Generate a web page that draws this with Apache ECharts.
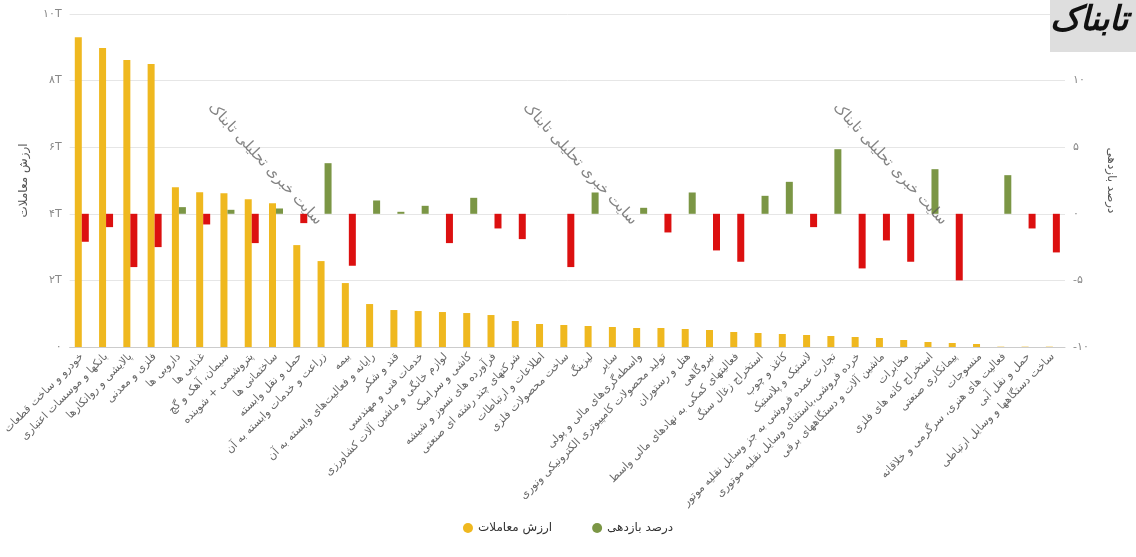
<!DOCTYPE html>
<html><head><meta charset="utf-8">
<script src="https://cdn.jsdelivr.net/npm/echarts@6/dist/echarts.min.js"></script>
<style>html,body{margin:0;padding:0;background:#fff}#c{width:1136px;height:557px}</style>
</head><body><div id="c"></div>
<script>
const categories = ["خودرو و ساخت قطعات","بانکها و موسسات اعتباری","پالایشی و روانکارها","فلزی و معدنی","دارویی ها","غذایی ها","سیمان، آهک و گچ","پتروشیمی + شوینده","ساختمانی ها","حمل و نقل وابسته","زراعت و خدمات وابسته به آن","بیمه","رایانه و فعالیت‌های وابسته به آن","قند و شکر","خدمات فنی و مهندسی","لوازم خانگی و ماشین آلات کشاورزی","کاشی و سرامیک","فرآورده های نسوز و شیشه","شرکتهای چند رشته ای صنعتی","اطلاعات و ارتباطات","ساخت محصولات فلزی","لیزینگ","سایر","واسطه‌گری‌های مالی و پولی","تولید محصولات کامپیوتری الکترونیکی ونوری","هتل و رستوران","نیروگاهی","فعالیتهای کمکی به نهادهای مالی واسط","استخراج زغال سنگ","کاغذ و چوب","لاستیک و پلاستیک","تجارت عمده فروشی به جز وسایل نقلیه موتور","خرده فروشی،باستثنای وسایل نقلیه موتوری","ماشین آلات و دستگاههای برقی","مخابرات","استخراج کانه های فلزی","پیمانکاری صنعتی","منسوجات","فعالیت های هنری، سرگرمی و خلاقانه","حمل و نقل آبی","ساخت دستگاهها و وسایل ارتباطی"];
const tradeValue = [9.3,8.98,8.62,8.5,4.8,4.65,4.62,4.44,4.32,3.06,2.58,1.92,1.29,1.11,1.08,1.05,1.02,0.96,0.78,0.69,0.66,0.63,0.6,0.57,0.57,0.54,0.51,0.45,0.42,0.39,0.36,0.33,0.30,0.27,0.21,0.15,0.12,0.09,0.01,0.01,0.01];
const returnPct = [-2.1,-1.0,-4.0,-2.5,0.5,-0.8,0.3,-2.2,0.4,-0.7,3.8,-3.9,1.0,0.15,0.6,-2.2,1.2,-1.1,-1.9,null,-4.0,1.6,null,0.45,-1.4,1.6,-2.75,-3.6,1.35,2.4,-1.0,4.85,-4.1,-2.0,-3.6,3.35,-5.0,null,2.9,-1.1,-2.9];
const leftTicks = {0:"۰",2:"۲T",4:"۴T",6:"۶T",8:"۸T",10:"۱۰T"};
const rightTicks = {"-10":"-۱۰","-5":"-۵",0:"۰",5:"۵",10:"۱۰",15:"۱۵"};
const YEL="#efb81f", GRN="#7b9645", RED="#dc1010";
const wm = (x,y)=>({type:'text',left:x,top:y,rotation:-Math.PI/4*1.05,z:100,style:{text:'سایت خبری تحلیلی تابناک',fill:'rgba(90,90,90,0.75)',font:'15px "DejaVu Sans"'}});
const chart = echarts.init(document.getElementById('c'));
chart.setOption({
  animation:false,
  textStyle:{fontFamily:'"DejaVu Sans", "Noto Sans", sans-serif'},
  grid:{left:64,right:71,top:14,bottom:210},
  legend:{bottom:18,left:'center',itemGap:40,icon:'circle',itemWidth:10,itemHeight:10,
    textStyle:{fontSize:12,color:'#333'},
    data:[{name:'ارزش معاملات',itemStyle:{color:YEL}},{name:'درصد بازدهی',itemStyle:{color:GRN}}]},
  xAxis:{type:'category',data:categories,
    axisLine:{lineStyle:{color:'#ccc'}},axisTick:{show:false},
    axisLabel:{interval:0,rotate:45,fontSize:11,color:'#666',margin:8}},
  yAxis:[
    {type:'value',min:0,max:10,interval:2,name:'ارزش معاملات',nameLocation:'middle',nameGap:40,nameRotate:90,
      nameTextStyle:{fontSize:12,color:'#555'},
      axisLabel:{formatter:v=>leftTicks[v],color:'#888',fontSize:11},
      splitLine:{lineStyle:{color:'#e6e6e6'}},axisLine:{show:false},axisTick:{show:false}},
    {type:'value',min:-10,max:15,interval:5,name:'درصد بازدهی',nameLocation:'middle',nameGap:40,nameRotate:-90,
      nameTextStyle:{fontSize:12,color:'#555'},
      axisLabel:{formatter:v=>rightTicks[v],color:'#888',fontSize:11},
      splitLine:{show:false},axisLine:{show:false},axisTick:{show:false}}
  ],
  series:[
    {name:'ارزش معاملات',type:'bar',data:tradeValue,barWidth:7,barGap:'0%',itemStyle:{color:YEL}},
    {name:'درصد بازدهی',type:'bar',yAxisIndex:1,data:returnPct,barWidth:7,
      itemStyle:{color:p=>p.value>=0?GRN:RED}},
  ],
  graphic:[
    wm(205,100),wm(520,100),wm(830,100),
    {type:'rect',right:0,top:0,shape:{width:86,height:52},style:{fill:'#dedede'},z:50},
    {type:'text',right:8,top:4,z:60,style:{text:'تابناک',fill:'#111',font:'italic bold 34px "DejaVu Serif"'}}
  ]
});
</script></body></html>
